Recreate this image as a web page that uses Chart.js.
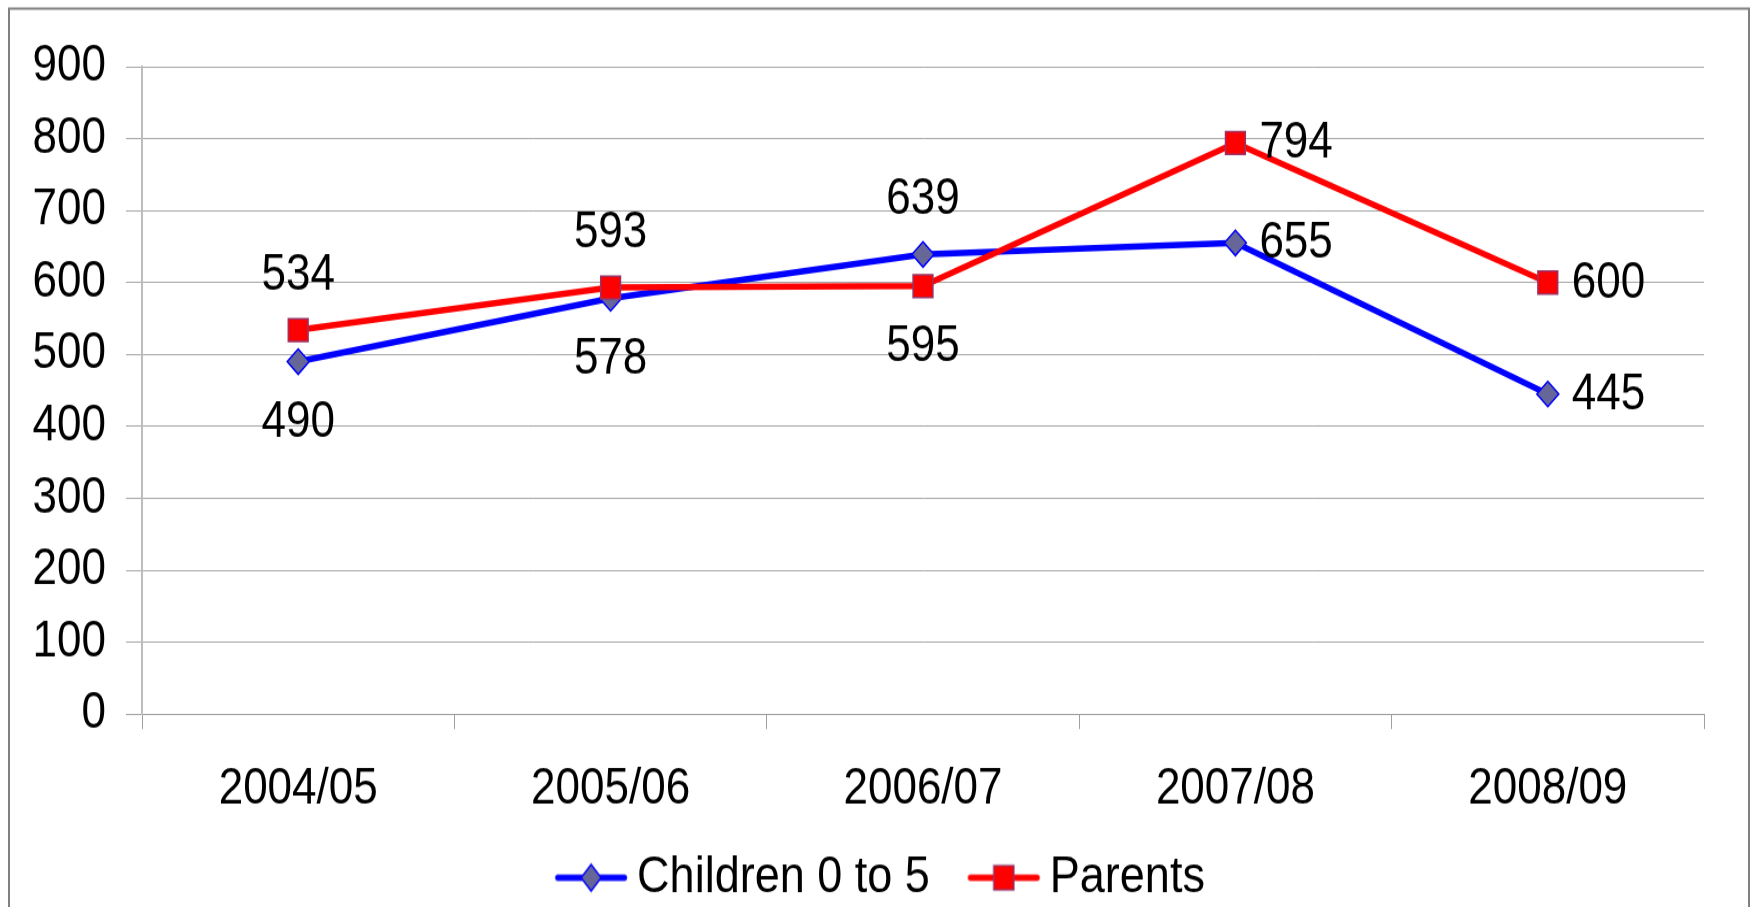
<!DOCTYPE html>
<html>
<head>
<meta charset="utf-8">
<script src="https://cdn.jsdelivr.net/npm/chart.js@4.4.1/dist/chart.umd.min.js"></script>
<style>
  html, body { margin: 0; padding: 0; background: #ffffff; overflow: hidden; width: 1752px; height: 907px; }
  #wrap { position: absolute; left: 0; top: 0; width: 1752px; height: 830px; transform-origin: 0 0; transform: scaleY(1.1496); }
  canvas { display: block; }
</style>
</head>
<body>
<div id="wrap"><canvas id="c" width="1752" height="830"></canvas></div>
<script>
// ---- data ----
const categories = ['2004/05', '2005/06', '2006/07', '2007/08', '2008/09'];
const seriesNames = ['Children 0 to 5', 'Parents'];
const childrenValues = [490, 578, 639, 655, 445];
const parentsValues = [534, 593, 595, 794, 600];
const yTickMin = 0;
const yTickMax = 900;
const yTickStep = 100;

// ---- label placement (presentation config) ----
const childrenLabelPlacement = ['below', 'below', 'above', 'right', 'right'];
const parentsLabelPlacement = ['above', 'above', 'below', 'right', 'right'];

const FONT = "'Liberation Sans', Arial, Helvetica, sans-serif";
const FS = 44;
const LEGEND_FS = 45;

function legendImage(lineColor, marker) {
  const cv = document.createElement('canvas');
  cv.width = 140; cv.height = 28;
  const g = cv.getContext('2d');
  const a = 58.25, cy = 14, len = 72;
  g.strokeStyle = lineColor; g.lineWidth = 5.5; g.lineCap = 'round';
  g.beginPath(); g.moveTo(a + 2.75, cy); g.lineTo(a + len - 2.75, cy); g.stroke();
  const cx = a + len / 2;
  g.lineWidth = 1.5;
  if (marker === 'diamond') {
    g.fillStyle = '#666699'; g.strokeStyle = '#0000FF';
    g.beginPath(); g.moveTo(cx - 10, cy); g.lineTo(cx, cy - 11.5); g.lineTo(cx + 10, cy); g.lineTo(cx, cy + 11.5); g.closePath();
    g.fill(); g.stroke();
  } else {
    g.fillStyle = '#FF0000'; g.strokeStyle = '#993366';
    g.beginPath(); g.rect(cx - 10, cy - 10.5, 20, 21); g.fill(); g.stroke();
  }
  return cv;
}
const legendImgs = [legendImage('#0000FF', 'diamond'), legendImage('#FF0000', 'square')];

const placements = [childrenLabelPlacement, parentsLabelPlacement];
const dataLabelPlugin = {
  id: 'dataLabels',
  afterDatasetsDraw(chart) {
    const ctx = chart.ctx;
    ctx.save();
    ctx.font = FS + 'px ' + FONT;
    ctx.fillStyle = '#000000';
    chart.data.datasets.forEach((ds, di) => {
      const meta = chart.getDatasetMeta(di);
      meta.data.forEach((pt, i) => {
        const p = placements[di][i];
        const txt = String(ds.data[i]);
        ctx.textBaseline = 'middle';
        if (p === 'above') { ctx.textAlign = 'center'; ctx.fillText(txt, pt.x, pt.y - 47); }
        else if (p === 'below') { ctx.textAlign = 'center'; ctx.fillText(txt, pt.x, pt.y + 53); }
        else { ctx.textAlign = 'left'; ctx.fillText(txt, pt.x + 24, pt.y + 1); }
      });
    });
    ctx.restore();
  }
};

const framePlugin = {
  id: 'frame',
  beforeDraw(chart) {
    const ctx = chart.ctx;
    ctx.save();
    ctx.fillStyle = '#ffffff';
    ctx.fillRect(0, 0, chart.width, chart.height);
    ctx.strokeStyle = '#808080';
    ctx.lineWidth = 2;
    ctx.strokeRect(9, 7.5, 1740, 900);
    ctx.restore();
  }
};

new Chart(document.getElementById('c'), {
  type: 'line',
  data: {
    labels: categories,
    datasets: [
      {
        label: seriesNames[0],
        data: childrenValues,
        borderColor: '#0000FF',
        borderWidth: 5.5,
        backgroundColor: '#666699',
        pointStyle: 'rectRot',
        pointRadius: 11,
        pointBorderColor: '#0000FF',
        pointBackgroundColor: '#666699',
        pointBorderWidth: 1.5,
        tension: 0,
        order: 1
      },
      {
        label: seriesNames[1],
        data: parentsValues,
        borderColor: '#FF0000',
        borderWidth: 5.5,
        backgroundColor: '#FF0000',
        pointStyle: 'rect',
        pointRadius: 14,
        pointBorderColor: '#993366',
        pointBackgroundColor: '#FF0000',
        pointBorderWidth: 1.5,
        tension: 0,
        order: 0
      }
    ]
  },
  options: {
    responsive: false,
    animation: false,
    devicePixelRatio: 1,
    layout: { padding: { left: 20, right: 48, top: 58, bottom: 34 } },
    plugins: {
      tooltip: { enabled: false },
      title: { display: false },
      legend: {
        display: true,
        position: 'bottom',
        labels: {
          usePointStyle: true,
          pointStyleWidth: 95.5,
          padding: 2,
          color: '#000000',
          font: { family: FONT, size: LEGEND_FS },
          sort: (a, b) => a.datasetIndex - b.datasetIndex,
          generateLabels(chart) {
            const items = Chart.defaults.plugins.legend.labels.generateLabels(chart);
            items.forEach(it => { it.pointStyle = legendImgs[it.datasetIndex]; });
            return items;
          }
        }
      }
    },
    scales: {
      x: {
        offset: true,
        grid: { offset: true, drawOnChartArea: false, drawTicks: true, tickLength: 13, color: '#A0A0A0', lineWidth: 1 },
        border: { display: true, color: '#A0A0A0', width: 1 },
        ticks: { color: '#000000', font: { family: FONT, size: FS }, padding: 26, maxRotation: 0, autoSkip: false }
      },
      y: {
        min: yTickMin,
        max: yTickMax,
        afterFit(scale) { scale.width = 122; },
        grid: { color: '#A6A6A6', lineWidth: 1, drawTicks: true, tickLength: 16 },
        border: { display: true, color: '#BDBDBD', width: 2 },
        ticks: { stepSize: yTickStep, color: '#000000', font: { family: FONT, size: FS }, padding: 20 }
      }
    }
  },
  plugins: [framePlugin, dataLabelPlugin]
});
</script>
</body>
</html>
